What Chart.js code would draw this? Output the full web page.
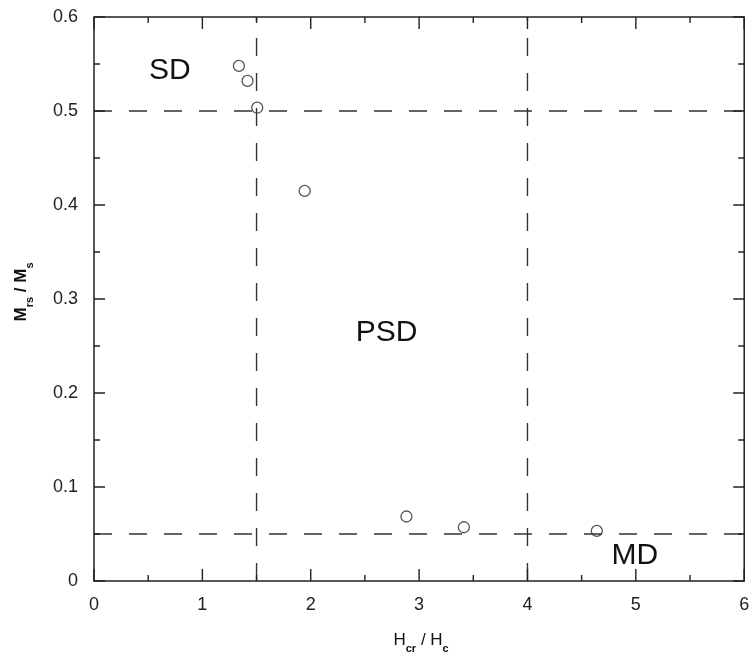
<!DOCTYPE html>
<html>
<head>
<meta charset="utf-8">
<script src="https://cdn.jsdelivr.net/npm/chart.js@4/dist/chart.umd.min.js"></script>
<style>
  html, body { margin: 0; padding: 0; background: #fff; }
  #wrap { width: 751px; height: 659px; }
</style>
</head>
<body>
<div id="wrap"><canvas id="myChart"></canvas></div>
<script>
// Hcr/Hc vs Mrs/Ms
const hRatio = [1.337, 1.417, 1.506, 1.944, 2.883, 3.413, 4.64];
const mRatio = [0.548, 0.532, 0.5035, 0.415, 0.0686, 0.0572, 0.0533];

// boundaries of the Day plot regions
const hBounds = [1.5, 4];
const mBounds = [0.5, 0.05];

const regionNames = ["SD", "PSD", "MD"];
const regionX = [0.70, 2.70, 4.99];
const regionY = [0.543, 0.264, 0.027];

const xTicks = [0, 1, 2, 3, 4, 5, 6];
const yTicks = [0, 0.1, 0.2, 0.3, 0.4, 0.5, 0.6];

const FONT = "'Liberation Sans', Arial, sans-serif";
const DARK = "#222";

const points = hRatio.map((h, i) => ({ x: h, y: mRatio[i] }));

const dashSets = [];
hBounds.forEach(h => dashSets.push([{ x: h, y: yTicks[0] }, { x: h, y: yTicks[yTicks.length - 1] }]));
mBounds.forEach(m => dashSets.push([{ x: xTicks[0], y: m }, { x: xTicks[xTicks.length - 1], y: m }]));

const datasets = dashSets.map(d => ({
  type: "line",
  data: d,
  borderColor: "#333",
  borderWidth: 1.4,
  borderDash: [18, 17],
  pointRadius: 0,
  fill: false,
}));
datasets.push({
  type: "scatter",
  data: points,
  pointRadius: 5.5,
  pointBorderWidth: 1.3,
  pointBorderColor: "#555",
  pointBackgroundColor: "#fff",
});

const frame = {
  id: "frame",
  afterDraw(chart) {
    const { ctx, chartArea: a, scales } = chart;
    const xs = scales.x, ys = scales.y;
    ctx.save();
    ctx.strokeStyle = DARK;
    ctx.lineWidth = 1.5;
    ctx.strokeRect(a.left, a.top, a.right - a.left, a.bottom - a.top);

    ctx.lineWidth = 1.4;
    ctx.beginPath();
    for (let v = xTicks[0]; v <= xTicks[xTicks.length - 1] + 1e-9; v += 0.5) {
      const px = xs.getPixelForValue(v);
      const len = Math.abs(v - Math.round(v)) < 1e-9 ? 12 : 6;
      ctx.moveTo(px, a.bottom); ctx.lineTo(px, a.bottom - len);
      ctx.moveTo(px, a.top); ctx.lineTo(px, a.top + len);
    }
    for (let i = 0; i <= 12; i++) {
      const v = i * 0.05;
      const py = ys.getPixelForValue(v);
      const len = i % 2 === 0 ? 11 : 6;
      ctx.moveTo(a.left, py); ctx.lineTo(a.left + len, py);
      ctx.moveTo(a.right, py); ctx.lineTo(a.right - len, py);
    }
    ctx.stroke();

    // region labels
    ctx.fillStyle = "#111";
    ctx.font = "30px " + FONT;
    ctx.textAlign = "center";
    ctx.textBaseline = "middle";
    regionNames.forEach((n, i) => {
      ctx.fillText(n, xs.getPixelForValue(regionX[i]), ys.getPixelForValue(regionY[i]));
    });

    // x title: H_cr / H_c
    ctx.textBaseline = "alphabetic";
    ctx.textAlign = "left";
    const xParts = [
      ["H", "17px " + FONT, 0],
      ["cr", "bold 11px " + FONT, 7],
      [" / H", "17px " + FONT, 0],
      ["c", "bold 11px " + FONT, 7],
    ];
    drawParts(ctx, xParts, (a.left + a.right) / 2 + 2, 645, 0);

    // y title: M_rs / M_s
    const yParts = [
      ["M", "bold 17px " + FONT, 0],
      ["rs", "bold 11px " + FONT, 7],
      [" / M", "bold 17px " + FONT, 0],
      ["s", "bold 11px " + FONT, 7],
    ];
    drawParts(ctx, yParts, 26, (a.top + a.bottom) / 2 - 7, -Math.PI / 2);
    ctx.restore();
  },
};

function drawParts(ctx, parts, cx, cy, rot) {
  let total = 0;
  parts.forEach(p => { ctx.font = p[1]; total += ctx.measureText(p[0]).width; });
  ctx.save();
  ctx.translate(cx, cy);
  ctx.rotate(rot);
  ctx.fillStyle = "#111";
  let x = -total / 2;
  parts.forEach(p => {
    ctx.font = p[1];
    ctx.fillText(p[0], x, p[2]);
    x += ctx.measureText(p[0]).width;
  });
  ctx.restore();
}

new Chart(document.getElementById("myChart"), {
  type: "scatter",
  data: { datasets },
  options: {
    responsive: true,
    maintainAspectRatio: false,
    animation: false,
    layout: { padding: { top: 17, right: 4, left: 0, bottom: 0 } },
    plugins: { legend: { display: false }, tooltip: { enabled: false } },
    scales: {
      x: {
        type: "linear",
        min: xTicks[0],
        max: xTicks[xTicks.length - 1],
        afterBuildTicks: s => { s.ticks = xTicks.map(v => ({ value: v })); },
        afterFit: s => { s.height = 78; s.paddingLeft = 0; s.paddingRight = 0; },
        grid: { display: false, drawTicks: false },
        border: { display: false },
        ticks: { padding: 13, color: DARK, font: { family: FONT, size: 18 } },
      },
      y: {
        type: "linear",
        min: yTicks[0],
        max: yTicks[yTicks.length - 1],
        afterBuildTicks: s => { s.ticks = yTicks.map(v => ({ value: v })); },
        afterFit: s => { s.width = 94; s.paddingTop = 0; s.paddingBottom = 0; },
        grid: { display: false, drawTicks: false },
        border: { display: false },
        ticks: { padding: 16, color: DARK, font: { family: FONT, size: 18 },
                 callback: v => String(Math.round(v * 10) / 10) },
      },
    },
  },
  plugins: [frame],
});
</script>
</body>
</html>
